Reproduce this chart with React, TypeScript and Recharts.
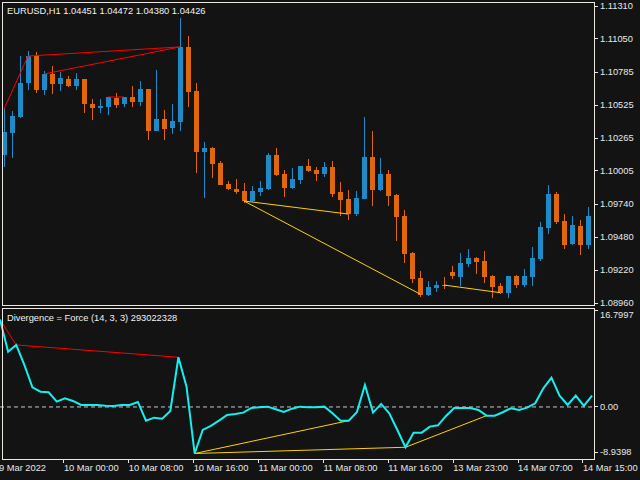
import { ComposedChart, LineChart, Bar, Line, XAxis, YAxis, ReferenceLine } from 'recharts';

const BG = '#131313';
const FRAME = '#ece8e0';
const TEXT = '#e8e8e8';
const BULL = '#1e8ac6';
const BEAR = '#e0680a';
const RED = '#ff0000';
const YELLOW = '#ffd200';
const CYAN = '#12f0f0';
const FONT = '"Liberation Sans", Arial, sans-serif';

// hourly bars, 9 Mar 16:00 .. 14 Mar 16:00 (weekend gap)
const pad = (h: number) => (h < 10 ? '0' + h : '' + h);
const times: string[] = [];
for (let h = 16; h < 24; h++) times.push(`9 Mar ${pad(h)}:00`);
for (let h = 0; h < 24; h++) times.push(`10 Mar ${pad(h)}:00`);
for (let h = 0; h < 24; h++) times.push(`11 Mar ${pad(h)}:00`);
times.push('13 Mar 23:00');
for (let h = 0; h <= 16; h++) times.push(`14 Mar ${pad(h)}:00`);

const opens = [
  1.10131, 1.10305, 1.10432, 1.10701, 1.10914, 1.10645, 1.10772, 1.10693, 1.10732, 1.10677,
  1.10732, 1.10535, 1.10503, 1.10511, 1.10582, 1.10535, 1.1059, 1.1055, 1.10653, 1.10321,
  1.10416, 1.10345, 1.10392, 1.10986, 1.10637, 1.10155, 1.10186, 1.10068, 1.09902, 1.09862,
  1.09846, 1.09767, 1.09838, 1.09862, 1.10131, 1.09981, 1.0987, 1.09933, 1.10044, 1.10012,
  1.09981, 1.10036, 1.09838, 1.09783, 1.09664, 1.09783, 1.10115, 1.09854, 1.09981, 1.09815,
  1.09648, 1.09356, 1.09158, 1.09023, 1.09079, 1.09102, 1.09205, 1.09166, 1.09269, 1.09316,
  1.09292, 1.09174, 1.09095, 1.09039, 1.09174, 1.09102, 1.09166, 1.09308, 1.09553, 1.09822,
  1.09609, 1.09427, 1.09569, 1.09419,
];
const highs = [
  1.10503, 1.10479, 1.10914, 1.10954, 1.10946, 1.10796, 1.10835, 1.10788, 1.10756, 1.1078,
  1.10732, 1.10574, 1.10574, 1.1059, 1.10622, 1.1059, 1.10677, 1.10717, 1.10653, 1.10804,
  1.10487, 1.10535, 1.11215, 1.11073, 1.10701, 1.10234, 1.10194, 1.10084, 1.09925, 1.09941,
  1.0991, 1.09886, 1.09925, 1.10147, 1.10186, 1.10012, 1.10028, 1.10044, 1.10099, 1.10036,
  1.10076, 1.10084, 1.09917, 1.09854, 1.09846, 1.10432, 1.10321, 1.10107, 1.10012, 1.09822,
  1.09696, 1.09364, 1.09213, 1.09134, 1.09134, 1.09166, 1.09253, 1.09356, 1.09387, 1.09324,
  1.09371, 1.09182, 1.09118, 1.09174, 1.09182, 1.09229, 1.09403, 1.09601, 1.09894, 1.09838,
  1.09664, 1.09648, 1.09617, 1.0972,
];
const lows = [
  1.10036, 1.10107, 1.10424, 1.10645, 1.10622, 1.10606, 1.10614, 1.10637, 1.10669, 1.10645,
  1.10463, 1.10408, 1.10463, 1.10448, 1.10503, 1.10511, 1.10511, 1.10519, 1.1025, 1.10321,
  1.1025, 1.10297, 1.10321, 1.10511, 1.09989, 1.09791, 1.09949, 1.09894, 1.09854, 1.09822,
  1.09751, 1.09759, 1.09807, 1.09854, 1.09965, 1.09799, 1.09862, 1.09902, 1.09997, 1.09925,
  1.09957, 1.09799, 1.09648, 1.09617, 1.09648, 1.09783, 1.09728, 1.09846, 1.09728, 1.09451,
  1.09277, 1.09118, 1.09008, 1.09015, 1.09047, 1.09071, 1.0915, 1.09095, 1.09245, 1.09189,
  1.09118, 1.09, 1.09031, 1.09, 1.09079, 1.09087, 1.09095, 1.09292, 1.09506, 1.09585,
  1.09387, 1.09419, 1.0934, 1.09387,
];
const closes = [
  1.10313, 1.1044, 1.10701, 1.10914, 1.10645, 1.10772, 1.10693, 1.1074, 1.10677, 1.10732,
  1.10535, 1.10503, 1.10519, 1.1059, 1.10527, 1.1059, 1.1055, 1.10653, 1.10321, 1.10416,
  1.10337, 1.104, 1.10986, 1.1063, 1.10155, 1.10186, 1.1006, 1.09894, 1.09862, 1.09838,
  1.09767, 1.09846, 1.0987, 1.10131, 1.09973, 1.0987, 1.09941, 1.10044, 1.10004, 1.09981,
  1.10036, 1.09822, 1.09775, 1.09664, 1.09791, 1.10115, 1.09854, 1.09981, 1.09807, 1.0964,
  1.09348, 1.0915, 1.09023, 1.09087, 1.09102, 1.09095, 1.09174, 1.09277, 1.09316, 1.09284,
  1.09166, 1.09087, 1.09039, 1.09174, 1.09102, 1.09174, 1.09316, 1.09561, 1.09822, 1.09601,
  1.09419, 1.09577, 1.09419, 1.09648,
];

// Force index (14, 3, 3)
const force = [
  16.7997, 10.62, 11.91, 8.07, 3.78, 2.94, 2.82, 1.02, 1.67, 1.15,
  0.38, 0.38, 0.38, 0.25, 0.19, 0.38, 0.38, 0.96, -2.63, -2.06,
  -2.25, -0.77, 9.55, 3.9, -8.9398, -4.42, -3.65, -2.63, -1.54, -1.35,
  -1.09, -0.19, -0.06, 0.06, -0.44, -0.96, -0.33, 0.06, -0.06, -0.06,
  0.06, -1.21, -2.63, -2.63, -1.02, 4.23, -1.09, 0.58, -1.21, -4.42,
  -7.74, -4.94, -4.94, -3.78, -3.52, -1.73, -0.19, -0.19, -0.19, -0.58,
  -1.67, -1.67, -1.02, -0.25, -0.58, -0.13, 0.71, 3.59, 5.63, 2.17,
  0.38, 2.17, 0.19, 2.17,
];

// divergence segments: [fromBar, fromValue, toBar, toValue]
const redPriceLines = [
  [0, 1.10495, 3, 1.10914],
  [3, 1.10914, 22, 1.10986],
  [5, 1.10772, 22, 1.10986],
  [13, 1.1059, 15, 1.1059],
];
const yellowPriceLines = [
  [30, 1.09767, 43, 1.09664],
  [30, 1.09767, 52, 1.09031],
  [55, 1.09102, 62, 1.09042],
];
const redForceLines = [
  [0, 16.7997, 2, 11.91],
  [2, 11.91, 22, 9.55],
  [13, 0.25, 15, 0.25],
];
const yellowForceLines = [
  [24, -8.9398, 43, -2.63],
  [24, -8.9398, 50, -7.74],
  [50, -7.74, 60, -1.67],
];

const priceTicks = [1.1131, 1.1105, 1.10785, 1.10525, 1.10265, 1.10005, 1.0974, 1.0948, 1.0922, 1.0896];
const forceTicks = [16.7997, 0, -8.9398];
const forceTickLabels = ['16.7997', '0.00', '-8.9398'];
const xTickTimes = ['9 Mar 16:00', '10 Mar 00:00', '10 Mar 08:00', '10 Mar 16:00', '11 Mar 00:00', '11 Mar 08:00', '11 Mar 16:00', '13 Mar 23:00', '14 Mar 07:00', '14 Mar 15:00'];
const xTickLabels = ['9 Mar 2022', '10 Mar 00:00', '10 Mar 08:00', '10 Mar 16:00', '11 Mar 00:00', '11 Mar 08:00', '11 Mar 16:00', '13 Mar 23:00', '14 Mar 07:00', '14 Mar 15:00'];

function addSegments(row: Record<string, unknown>, i: number, prefix: string, segs: number[][]) {
  segs.forEach(([a, va, b, vb], k) => {
    row[prefix + k] = i === a ? va : i === b ? vb : null;
  });
}

const rows = times.map((time, i) => {
  const row: Record<string, unknown> = {
    time,
    range: [lows[i], highs[i]],
    open: opens[i],
    high: highs[i],
    low: lows[i],
    close: closes[i],
    force: force[i],
  };
  addSegments(row, i, 'rp', redPriceLines);
  addSegments(row, i, 'yp', yellowPriceLines);
  addSegments(row, i, 'rf', redForceLines);
  addSegments(row, i, 'yf', yellowForceLines);
  return row;
});

function Candle(props: any) {
  const { x, y, width, height, payload } = props;
  const { open, close, high, low } = payload;
  const top = Math.min(y, y + height);
  const span = Math.abs(height);
  const k = span / (high - low);
  const yOf = (v: number) => top + (high - v) * k;
  const cx = Math.round(x + width / 2);
  const bTop = Math.round(yOf(Math.max(open, close)));
  const bBot = Math.round(yOf(Math.min(open, close)));
  const color = close >= open ? BULL : BEAR;
  return (
    <g shapeRendering="crispEdges">
      <rect x={cx} y={Math.round(top)} width={1} height={Math.max(1, Math.round(top + span) - Math.round(top))} fill={color} />
      <rect x={cx - 2} y={bTop} width={5} height={Math.max(1, bBot - bTop)} fill={color} />
    </g>
  );
}

function PriceTick(props: any) {
  const { y, payload } = props;
  return (
    <g>
      <line x1={594} x2={598} y1={y} y2={y} stroke={FRAME} shapeRendering="crispEdges" />
      <text x={600} y={y} dominantBaseline="central" fill={TEXT} fontSize={9.3} fontFamily={FONT}>
        {Number(payload.value).toFixed(5)}
      </text>
    </g>
  );
}

function ForceTick(props: any) {
  const { y, payload } = props;
  const idx = forceTicks.indexOf(payload.value);
  let markY = y;
  let textY = y;
  if (idx === 0) {
    markY = 2;
    textY = 7;
  } else if (idx === forceTicks.length - 1) {
    markY = y - 1.5;
    textY = y - 1.5;
  }
  return (
    <g>
      <line x1={594} x2={598} y1={markY} y2={markY} stroke={FRAME} shapeRendering="crispEdges" />
      <text x={600} y={textY} dominantBaseline="central" fill={TEXT} fontSize={9.3} fontFamily={FONT}>
        {forceTickLabels[idx]}
      </text>
    </g>
  );
}

function TimeTick(props: any) {
  const { x, payload } = props;
  const idx = xTickTimes.indexOf(payload.value);
  return (
    <g>
      <line x1={x - 1} x2={x - 1} y1={151} y2={155} stroke={FRAME} shapeRendering="crispEdges" />
      <text x={x - 1} y={160} dominantBaseline="central" fill={TEXT} fontSize={9.3} fontFamily={FONT}>
        {xTickLabels[idx]}
      </text>
    </g>
  );
}

function segLines(prefix: string, segs: number[][], color: string) {
  return segs.map((_, k) => (
    <Line
      key={prefix + k}
      dataKey={prefix + k}
      type="linear"
      stroke={color}
      strokeWidth={1}
      dot={false}
      activeDot={false}
      connectNulls
      isAnimationActive={false}
    />
  ));
}

export default function App() {
  return (
    <div style={{ position: 'absolute', left: 0, top: 0, width: 640, height: 480, background: BG, overflow: 'hidden' }}>
      <div style={{ position: 'absolute', left: 0, top: 0 }}>
        <ComposedChart width={640} height={310} data={rows} margin={{ top: 6, right: 0, bottom: 7, left: 0 }}>
          <XAxis dataKey="time" hide />
          <YAxis
            orientation="right"
            width={48}
            type="number"
            domain={[1.0896, 1.1131]}
            ticks={priceTicks}
            interval={0}
            axisLine={false}
            tickLine={false}
            tick={(p: any) => <PriceTick {...p} />}
          />
          <Bar dataKey="range" shape={(p: any) => <Candle {...p} />} isAnimationActive={false} />
          {segLines('rp', redPriceLines, RED)}
          {segLines('yp', yellowPriceLines, YELLOW)}
        </ComposedChart>
      </div>
      <div style={{ position: 'absolute', left: 0, top: 308 }}>
        <LineChart width={640} height={172} data={rows} margin={{ top: 11.5, right: 0, bottom: 0, left: 0 }}>
          <XAxis
            dataKey="time"
            height={26.5}
            ticks={xTickTimes}
            interval={0}
            axisLine={false}
            tickLine={false}
            tickSize={0}
            tick={(p: any) => <TimeTick {...p} />}
          />
          <YAxis
            orientation="right"
            width={48}
            type="number"
            domain={[-8.9398, 16.7997]}
            ticks={forceTicks}
            interval={0}
            axisLine={false}
            tickLine={false}
            tick={(p: any) => <ForceTick {...p} />}
          />
          <ReferenceLine y={0} stroke="#c8c8c8" strokeDasharray="4 3" />
          {segLines('rf', redForceLines, RED)}
          {segLines('yf', yellowForceLines, YELLOW)}
          <Line dataKey="force" type="linear" stroke={CYAN} strokeWidth={2} dot={false} activeDot={false} isAnimationActive={false} />
        </LineChart>
      </div>
      <svg width={640} height={480} style={{ position: 'absolute', left: 0, top: 0, pointerEvents: 'none' }}>
        <rect x={2.5} y={2.5} width={592} height={303} fill="none" stroke={FRAME} shapeRendering="crispEdges" />
        <rect x={2.5} y={308.5} width={592} height={151} fill="none" stroke={FRAME} shapeRendering="crispEdges" />
        <text x={7} y={11} dominantBaseline="central" fill="#f2f2f2" fontSize={9.3} fontFamily={FONT}>
          EURUSD,H1  1.04451 1.04472 1.04380 1.04426
        </text>
        <text x={7} y={317.5} dominantBaseline="central" fill="#f2f2f2" fontSize={9.3} fontFamily={FONT}>
          Divergence = Force (14, 3, 3) 293022328
        </text>
      </svg>
    </div>
  );
}
